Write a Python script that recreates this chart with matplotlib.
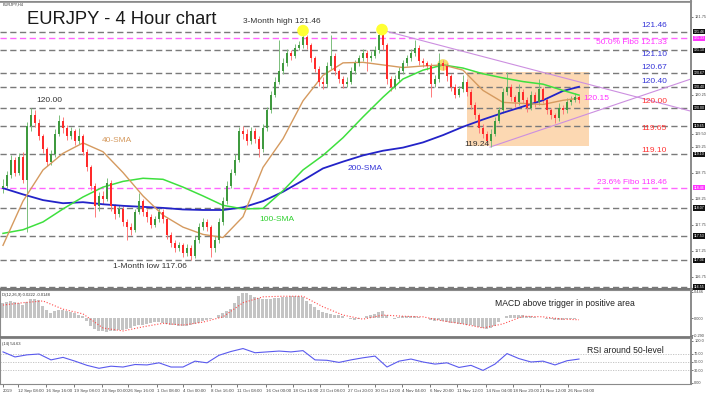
import numpy as np
import matplotlib
matplotlib.use('Agg')
import matplotlib.pyplot as plt
from matplotlib.patches import Rectangle
from matplotlib.ticker import FormatStrFormatter

plt.rcParams['font.family'] = ['Liberation Sans', 'DejaVu Sans']

#---------------------------------------------------------
# 4H candles (open = previous close)
first_open = 118.45
closes = [118.50, 118.70, 119.00, 118.75, 119.05, 118.60, 119.65, 119.85, 119.70, 119.45,
          119.20, 118.95, 119.10, 119.50, 119.75, 119.60, 119.45, 119.55, 119.35, 119.45,
          119.15, 118.85, 118.50, 118.10, 118.30, 118.25, 118.55, 118.10, 117.95, 118.05,
          117.80, 117.70, 117.65, 118.00, 118.20, 118.00, 117.90, 117.75, 117.85, 118.00,
          117.85, 117.55, 117.40, 117.30, 117.35, 117.20, 117.30, 117.15, 117.45, 117.70,
          117.80, 117.70, 117.30, 117.45, 117.80, 118.20, 118.50, 118.75, 119.00, 119.55,
          119.50, 119.35, 119.55, 119.40, 119.20, 119.60, 119.95, 120.25, 120.50, 120.70,
          120.85, 121.05, 121.00, 121.15, 121.20, 121.35, 121.20, 120.95, 120.75, 120.50,
          120.45, 120.80, 121.00, 120.70, 120.55, 120.45, 120.50, 120.70, 120.85, 120.95,
          121.05, 120.95, 121.00, 121.10, 121.40, 121.20, 120.55, 120.40, 120.55, 120.70,
          120.85, 120.95, 121.05, 121.15, 120.90, 120.85, 120.80, 120.45, 120.55, 120.85,
          120.80, 120.60, 120.40, 120.25, 120.35, 120.50, 120.30, 120.05, 119.85, 119.60,
          119.50, 119.35, 119.50, 119.75, 119.95, 120.30, 120.40, 120.20, 120.10, 120.30,
          120.15, 120.00, 120.25, 120.10, 120.35, 120.15, 119.95, 119.85, 119.80, 120.00,
          119.95, 120.10, 120.15, 120.20, 120.15]
highs = [118.62, 118.78, 119.08, 119.05, 119.12, 119.15, 119.72, 120.00, 119.95, 119.78,
         119.50, 119.25, 119.18, 119.58, 119.85, 119.82, 119.66, 119.62, 119.58, 119.60,
         119.50, 119.20, 118.90, 118.55, 118.38, 118.40, 118.65, 118.60, 118.15, 118.12,
         118.10, 117.85, 117.78, 118.05, 118.35, 118.25, 118.05, 117.95, 117.92, 118.08,
         118.05, 117.90, 117.60, 117.45, 117.42, 117.40, 117.38, 117.35, 117.52, 117.78,
         117.88, 117.85, 117.75, 117.52, 117.88, 118.28, 118.58, 118.82, 119.10, 119.62,
         119.65, 119.58, 119.62, 119.60, 119.45, 119.68, 120.02, 120.32, 120.58, 121.30,
         120.95, 121.12, 121.10, 121.22, 121.28, 121.46, 121.40, 121.25, 121.00, 120.80,
         120.58, 120.88, 121.40, 121.05, 120.75, 120.60, 120.58, 120.78, 120.92, 121.02,
         121.12, 121.10, 121.08, 121.18, 121.48, 121.46, 121.25, 120.60, 120.62, 120.78,
         120.92, 121.02, 121.12, 121.30, 121.20, 120.95, 120.90, 120.85, 120.62, 121.05,
         120.92, 120.85, 120.65, 120.45, 120.42, 120.62, 120.55, 120.35, 120.10, 119.90,
         119.68, 119.55, 119.58, 119.82, 120.02, 120.38, 120.68, 120.45, 120.25, 120.45,
         120.35, 120.20, 120.32, 120.30, 120.55, 120.40, 120.20, 120.00, 119.90, 120.08,
         120.05, 120.18, 120.22, 120.28, 120.25]
lows = [118.35, 118.45, 118.65, 118.68, 118.70, 118.55, 117.60, 119.55, 119.62, 119.38,
        119.12, 118.88, 118.90, 119.05, 119.45, 119.52, 119.38, 119.40, 119.28, 119.30,
        119.08, 118.78, 118.42, 117.90, 118.02, 118.15, 118.20, 118.02, 117.85, 117.90,
        117.72, 117.45, 117.55, 117.60, 117.95, 117.92, 117.80, 117.68, 117.70, 117.80,
        117.78, 117.48, 117.32, 117.22, 117.25, 117.12, 117.15, 117.06, 117.10, 117.40,
        117.65, 117.62, 117.12, 117.22, 117.40, 117.75, 118.15, 118.45, 118.70, 118.95,
        119.40, 119.28, 119.30, 119.32, 119.05, 119.15, 119.55, 119.90, 120.20, 120.45,
        120.65, 120.80, 120.92, 120.95, 121.10, 121.15, 121.12, 120.88, 120.68, 120.42,
        120.35, 120.40, 120.75, 120.62, 120.48, 120.38, 120.40, 120.45, 120.65, 120.80,
        120.90, 120.70, 120.90, 120.95, 121.05, 121.10, 120.45, 120.32, 120.35, 120.50,
        120.65, 120.80, 120.90, 121.00, 120.82, 120.78, 120.72, 120.20, 120.40, 120.50,
        120.72, 120.52, 120.32, 120.18, 120.20, 120.30, 120.22, 119.98, 119.78, 119.52,
        119.42, 119.28, 119.24, 119.45, 119.70, 119.90, 120.25, 120.12, 120.02, 120.05,
        120.08, 119.92, 119.95, 120.02, 120.05, 120.08, 119.88, 119.78, 119.70, 119.75,
        119.88, 119.90, 120.05, 120.10, 120.08]

# moving averages, read every 5 candles
sma_idx = [0, 5, 10, 15, 20, 25, 30, 35, 40, 45, 50, 55, 60, 65, 70, 75, 80, 85, 90, 95,
           100, 105, 110, 115, 120, 125, 130, 135, 140, 144]
sma40 = [117.35, 118.20, 118.80, 119.12, 119.32, 119.15, 118.75, 118.30, 117.93, 117.70,
         117.56, 117.50, 117.90, 118.85, 119.40, 120.13, 120.62, 120.86, 120.87, 120.82,
         120.77, 120.80, 120.82, 120.72, 120.33, 120.10, 120.08, 120.06, 120.14, 120.18]
sma100 = [117.58, 117.65, 117.80, 118.05, 118.28, 118.47, 118.58, 118.64, 118.62, 118.47,
          118.30, 118.12, 118.05, 118.06, 118.40, 118.80, 119.08, 119.42, 119.82, 120.20,
          120.55, 120.72, 120.82, 120.76, 120.65, 120.57, 120.50, 120.45, 120.33, 120.24]
sma200 = [118.45, 118.33, 118.22, 118.16, 118.18, 118.14, 118.11, 118.09, 118.07, 118.04,
          118.03, 118.03, 118.08, 118.20, 118.38, 118.60, 118.83, 118.96, 119.08, 119.17,
          119.23, 119.33, 119.47, 119.63, 119.77, 119.90, 120.02, 120.14, 120.32, 120.40]

# MACD(12,26,9)
macd_hist = [0.26, 0.27, 0.29, 0.27, 0.26, 0.22, 0.27, 0.32, 0.32, 0.31,
             0.20, 0.14, 0.09, 0.12, 0.14, 0.14, 0.12, 0.10, 0.09, 0.05,
             0.03, -0.05, -0.14, -0.19, -0.22, -0.22, -0.24, -0.22, -0.22, -0.20,
             -0.20, -0.19, -0.17, -0.14, -0.12, -0.12, -0.10, -0.09, -0.07, -0.07,
             -0.09, -0.10, -0.12, -0.12, -0.14, -0.14, -0.14, -0.12, -0.10, -0.09,
             -0.05, -0.03, -0.02, 0.00, 0.05, 0.09, 0.12, 0.15, 0.26, 0.37,
             0.43, 0.43, 0.39, 0.36, 0.34, 0.32, 0.32, 0.32, 0.34, 0.34,
             0.36, 0.36, 0.37, 0.37, 0.37, 0.36, 0.29, 0.24, 0.19, 0.14,
             0.10, 0.09, 0.07, 0.05, 0.05, 0.03, 0.00, -0.02, -0.03, -0.02,
             0.00, 0.03, 0.05, 0.07, 0.10, 0.12, 0.05, 0.00, -0.02, 0.02,
             0.03, 0.03, 0.03, 0.03, 0.02, 0.00, 0.00, -0.03, -0.05, -0.03,
             -0.05, -0.07, -0.09, -0.09, -0.10, -0.10, -0.12, -0.12, -0.14, -0.15,
             -0.17, -0.19, -0.17, -0.14, -0.07, 0.00, 0.03, 0.05, 0.05, 0.05,
             0.05, 0.03, 0.03, 0.02, 0.00, 0.00, -0.02, -0.02, -0.03, -0.03,
             -0.03, -0.02, -0.02, -0.02, 0.00]
macd_signal = [0.22, 0.26, 0.29, 0.15, 0.07, -0.17, -0.22, -0.15, -0.09, -0.12,
               -0.07, 0.02, 0.26, 0.36, 0.37, 0.37, 0.19, 0.05, -0.02, 0.05,
               0.03, 0.02, -0.05, -0.10, -0.17, -0.10, 0.03, 0.02, -0.02, -0.03]

# RSI(14), read every 3 candles
rsi_idx = list(range(0, 145, 3))
rsi = [74, 62, 67, 69, 55, 61, 52, 42, 35, 40, 38, 44, 43, 48, 38, 38, 52, 48, 66, 75,
       82, 72, 74, 76, 74, 77, 55, 54, 49, 55, 60, 64, 38, 52, 57, 50, 45, 48, 37, 42,
       30, 45, 70, 58, 50, 52, 43, 53, 57]

# support / resistance
levels = [121.46, 121.10, 120.67, 120.40, 120.00, 119.65, 119.10, 118.07, 117.53, 117.06, 116.55]
fibo_levels = [121.33, 118.46]
res_labels = ['121.46', '121.10', '120.67', '120.40']
res_label_y = [121.57, 121.03, 120.78, 120.51]
sup_labels = ['120.00', '119.65', '119.10']
sup_label_y = [120.11, 119.59, 119.18]

# triangle / range
down_line_x = [94.75, 172]
down_line_y = [121.49, 119.93]
up_line_x = [121.75, 172]
up_line_y = [119.24, 120.55]
box_x = [116, 146.5]
box_y = [119.26, 120.68]
peak_idx = [75, 94.75, 110]
peak_price = [121.48, 121.50, 120.82]

tick_pos = [0, 3.75, 10.75, 17.75, 24.75, 31.25, 38.5, 45, 52, 58.5, 65.75, 72.5, 79.25,
            86.25, 93, 99.75, 106.75, 113.5, 120.75, 127.5, 134.25, 141.25]
tick_lab = ['2019', '12 Sep 08:00', '16 Sep 16:00', '19 Sep 08:00', '24 Sep 00:00',
            '26 Sep 16:00', '1 Oct 08:00', '4 Oct 00:00', '8 Oct 16:00', '11 Oct 08:00',
            '16 Oct 00:00', '18 Oct 16:00', '23 Oct 08:00', '27 Oct 20:00', '30 Oct 12:00',
            '4 Nov 04:00', '6 Nov 20:00', '11 Nov 12:00', '14 Nov 04:00', '18 Nov 20:00',
            '21 Nov 12:00', '26 Nov 04:00']
#=========================================================================================
W, H = 709, 398
fig = plt.figure(figsize=(W / 100, H / 100), dpi=100)
ax = fig.add_axes([0, 109 / H, 691 / W, 288 / H])
axm = fig.add_axes([0, 61 / H, 691 / W, 47 / H])
axr = fig.add_axes([0, 14 / H, 691 / W, 46 / H])

XLIM = (-0.75, 172)
grey = '#8a8a8a'
for a in (ax, axm, axr):
    a.set_xlim(*XLIM)
    a.yaxis.tick_right()
    a.tick_params(axis='y', labelsize=2.8, length=1.5, width=0.5, pad=0.8, colors='#444444')
    a.set_xticks([])
    for s in a.spines.values():
        s.set_color(grey)
        s.set_linewidth(0.8)
    a.spines['right'].set_linewidth(1.4)

ax.spines['left'].set_visible(False)
ax.spines['bottom'].set_linewidth(2.2)
ax.spines['bottom'].set_color('#777777')
axm.spines['bottom'].set_linewidth(2.0)
axm.spines['bottom'].set_color('#777777')

# ---------------- main panel ----------------
ax.set_ylim(116.51, 122.05)
# price ticks, skipping the ones hidden behind the level boxes
all_lv = levels + fibo_levels
yt = [t for t in np.arange(116.75, 122.0, 0.25) if min(abs(t - l) for l in all_lv) > 0.1]
ax.set_yticks(yt)
ax.yaxis.set_major_formatter(FormatStrFormatter('%.2f'))

for lv in levels:
    ax.axhline(lv, color='#7a7a7a', lw=1.0, ls=(0, (4.5, 2.5)), zorder=1)
for lv in fibo_levels:
    ax.axhline(lv, color='#ff66ff', lw=1.0, ls=(0, (4.5, 2.5)), zorder=1)

ax.add_patch(Rectangle((box_x[0], box_y[0]), box_x[1] - box_x[0], box_y[1] - box_y[0],
                       facecolor='#fcd8b2', edgecolor='none', zorder=0.5))

ax.plot(down_line_x, down_line_y, color='#cc8fe0', lw=0.8, zorder=2)
ax.plot(up_line_x, up_line_y, color='#cc8fe0', lw=0.8, zorder=2)

ax.scatter(peak_idx[:2], peak_price[:2], s=70, color='#ffff33', zorder=5, edgecolors='none')
ax.scatter(peak_idx[2:], peak_price[2:], s=70, color='#f4e06a', zorder=2.5, edgecolors='none')

idx = np.arange(len(closes))
opens = np.array([first_open] + closes[:-1])
closes_a = np.array(closes)
up = closes_a >= opens
col = np.where(up, '#3f9a3f', '#ff2a2a')
wick = np.where(up, '#7cbf7c', '#ff7a7a')
ax.vlines(idx, lows, highs, colors=wick, lw=0.7, zorder=3)
body = np.maximum(np.abs(closes_a - opens), 0.012)
ax.bar(idx, body, bottom=np.minimum(opens, closes_a), width=0.6, color=col, zorder=4, lw=0)

ax.plot(sma_idx, sma200, color='#2323c8', lw=1.3, zorder=3.5)
ax.plot(sma_idx, sma100, color='#3ee03e', lw=1.1, zorder=3.5)
ax.plot(sma_idx, sma40, color='#d59a5f', lw=1.0, zorder=3.5)

# boxes on the price axis
ytr = ax.get_yaxis_transform()
for lv in levels:
    ax.text(1.004, lv, '%.2f' % lv, transform=ytr, fontsize=2.6, color='white', va='center',
            ha='left', bbox=dict(boxstyle='square,pad=0.2', fc='#111111', ec='none'), clip_on=False)
for lv in fibo_levels:
    ax.text(1.004, lv, '%.2f' % lv, transform=ytr, fontsize=2.6, color='white', va='center',
            ha='left', bbox=dict(boxstyle='square,pad=0.2', fc='#ff33ff', ec='none'), clip_on=False)

fs = 6
for lab, y in zip(res_labels, res_label_y):
    ax.text(166, y, lab, color='#3535d8', fontsize=fs, ha='right', va='center')
for lab, y in zip(sup_labels, sup_label_y):
    ax.text(166, y, lab, color='#ff3535', fontsize=fs, ha='right', va='center')
ax.text(166, 121.26, '50.0% Fibo 121.33', color='#ff33ff', fontsize=fs, ha='right', va='center')
ax.text(166, 118.55, '23.6% Fibo 118.46', color='#ff33ff', fontsize=fs, ha='right', va='center')
ax.text(145, 120.18, '120.15', color='#ff33ff', fontsize=fs, ha='left', va='center')

ax.text(11.6, 120.145, '120.00', color='#333333', fontsize=fs, ha='center', va='center')
ax.text(69.6, 121.65, '3-Month high 121.46', color='#333333', fontsize=fs, ha='center', va='center')
ax.text(36.75, 116.95, '1-Month low 117.06', color='#333333', fontsize=fs, ha='center', va='center')
ax.text(121.5, 119.28, '119.24', color='#333333', fontsize=fs, ha='right', va='center')
ax.text(28.6, 119.375, '40-SMA', color='#d59a5f', fontsize=fs, ha='center', va='center')
ax.text(68.4, 117.85, '100-SMA', color='#2fd02f', fontsize=fs, ha='center', va='center')
ax.text(90.5, 118.83, '200-SMA', color='#3535d8', fontsize=fs, ha='center', va='center')

fig.text(27 / W, 1 - 20 / H, 'EURJPY - 4 Hour chart', fontsize=13.2, color='#1a1a1a',
         ha='left', va='center')
fig.text(3 / W, 1 - 5 / H, 'EURJPY,H4', fontsize=2.8, color='#333333', ha='left', va='center')

# ---------------- MACD ----------------
axm.set_ylim(-0.323, 0.476)
axm.set_yticks([0.446, 0.0, -0.29])
axm.yaxis.set_major_formatter(FormatStrFormatter('%.3f'))
axm.bar(idx, macd_hist, width=0.75, color='#c4c4c4', lw=0, zorder=2)
axm.plot(sma_idx, macd_signal, color='#ff4a4a', lw=0.8, ls=':', zorder=3)
axm.text(0.003, 0.9, 'D(12,26,9) 0.0222 -0.0148', transform=axm.transAxes, fontsize=3,
         color='#333333', va='center')
axm.text(0.716, 0.72, 'MACD above trigger in positive area', transform=axm.transAxes,
         fontsize=6.2, color='#222222', ha='left', va='center')

# ---------------- RSI ----------------
axr.set_ylim(-2.4, 107.1)
axr.set_yticks([100, 70, 50, 30, 0])
axr.set_yticklabels(['100.0', '70.00', '50.00', '30.00', '0.00'])
for lv in (70, 50, 30):
    axr.axhline(lv, color='#bdbdbd', lw=0.6, ls=(0, (1.5, 1.5)), zorder=1)
axr.plot(rsi_idx, rsi, color='#5a5aee', lw=0.8, zorder=3)
axr.text(0.003, 0.88, '(14) 54.63', transform=axr.transAxes, fontsize=3,
         color='#333333', va='center')
axr.text(0.849, 0.73, 'RSI around 50-level', transform=axr.transAxes,
         fontsize=6.2, color='#222222', ha='left', va='center')

axr.set_xticks(tick_pos)
axr.set_xticklabels(tick_lab, fontsize=3.2, color='#333333', ha='left')
axr.tick_params(axis='x', length=2, width=0.5, pad=1.5, colors='#444444')

fig.add_artist(plt.Line2D([0, 691 / W], [1 - 1.5 / H, 1 - 1.5 / H], color=grey, lw=1.2))

plt.savefig('out.png', dpi=100)
